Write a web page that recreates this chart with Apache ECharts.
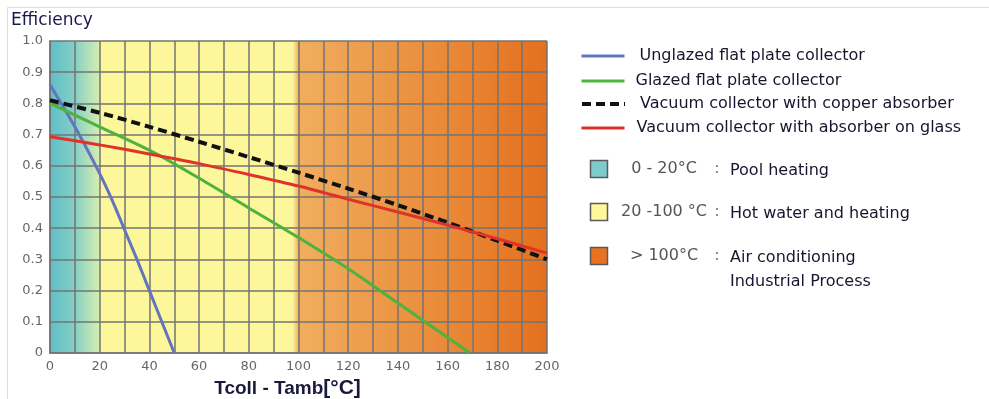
<!DOCTYPE html>
<html>
<head>
<meta charset="utf-8">
<script src="https://cdn.jsdelivr.net/npm/echarts@6/dist/echarts.min.js"></script>
<style>
  html, body { margin: 0; padding: 0; background: #fff; }
  #main { width: 989px; height: 399px; }
</style>
</head>
<body>
<div id="main"></div>
<script>
// collector curves: temperature difference (°C) and efficiency
var unglazedT   = [0, 10, 20, 25, 30, 35, 40, 45, 50];
var unglazedEff = [0.86, 0.725, 0.575, 0.49, 0.395, 0.30, 0.20, 0.10, 0];

var glazedT   = [0, 20, 40, 60, 80, 100, 120, 140, 160, 169];
var glazedEff = [0.80, 0.725, 0.65, 0.56, 0.465, 0.37, 0.27, 0.16, 0.05, 0];

var copperT   = [0, 20, 40, 60, 80, 100, 120, 140, 160, 180, 200];
var copperEff = [0.81, 0.77, 0.725, 0.677, 0.628, 0.578, 0.527, 0.474, 0.418, 0.36, 0.30];

var glassT   = [0, 20, 40, 60, 80, 100, 120, 140, 160, 180, 200];
var glassEff = [0.693, 0.667, 0.638, 0.607, 0.572, 0.535, 0.493, 0.452, 0.41, 0.366, 0.32];

var seriesNames = [
    'Unglazed flat plate collector',
    'Glazed flat plate collector',
    'Vacuum collector with copper absorber',
    'Vacuum collector with absorber on glass'
];

// temperature ranges shown as background bands
var bandFrom   = [0, 20, 100];
var bandTo     = [20, 100, 200];
var bandRange  = ['0 - 20°C', '20 -100 °C', '> 100°C'];
var bandUse    = ['Pool heating', 'Hot water and heating', 'Air conditioning\nIndustrial Process'];

var xMin = 0, xMax = 200;

function pairs(xs, ys) {
    var out = [];
    for (var i = 0; i < xs.length; i++) out.push([xs[i], ys[i]]);
    return out;
}

// background colours for each band (start, end)
var bandColors = [
    ['#5ebec6', '#d6eeb0'],
    ['#fdf79b', '#fdf79b'],
    ['#f0ae5e', '#e4701e']
];
var bandSwatch = ['#7ecbcb', '#fff79a', '#e8721f'];

var stops = [];
for (var b = 0; b < bandFrom.length; b++) {
    stops.push({offset: (bandFrom[b] - xMin) / (xMax - xMin), color: bandColors[b][0]});
    stops.push({offset: (bandTo[b] - xMin) / (xMax - xMin) - (b < bandFrom.length - 1 && b > 0 ? 0.012 : 0), color: bandColors[b][1]});
}
// soft mid colour in the pool band
stops.splice(1, 0, {offset: 0.05, color: '#86cfc5'});

var chart = echarts.init(document.getElementById('main'));

var gridLine = {show: true, lineStyle: {color: 'rgba(115,115,115,0.75)', width: 2}};
var font = 'DejaVu Sans';
var textColor = '#16162e';

var lineColors = ['#6474bd', '#4db33d', '#111111', '#e0322b'];
var lineData = [
    pairs(unglazedT, unglazedEff),
    pairs(glazedT, glazedEff),
    pairs(copperT, copperEff),
    pairs(glassT, glassEff)
];

var series = [];
for (var s = 0; s < seriesNames.length; s++) {
    series.push({
        name: seriesNames[s],
        type: 'line',
        data: lineData[s],
        smooth: 0.3,
        symbol: 'none',
        color: lineColors[s],
        lineStyle: {
            color: lineColors[s],
            width: s === 2 ? 4 : 3,
            type: s === 2 ? [9, 5] : 'solid'
        },
        z: 3
    });
}

// one legend per line so each row sits where it should
var legendTops = [56, 81, 104, 128];
var legendPad = [10, 6, 10, 7];
var legends = [];
for (var l = 0; l < seriesNames.length; l++) {
    legends.push({
        data: [seriesNames[l]],
        left: 580,
        top: legendTops[l] - 10,
        padding: 0,
        itemWidth: 43,
        itemHeight: 14,
        selectedMode: false,
        itemStyle: {opacity: 0},
        lineStyle: {width: l === 2 ? 4 : 3},
        textStyle: {
            fontFamily: font,
            fontSize: 16,
            color: textColor,
            lineHeight: 20,
            padding: [0, 0, 0, legendPad[l]]
        }
    });
}

// range legend (swatch, range, colon, use)
var rowY = [169, 212, 256];
var graphics = [{
    type: 'rect',
    shape: {x: 7.5, y: 7.5, width: 1200, height: 800},
    style: {fill: null, stroke: '#deded6', lineWidth: 1},
    silent: true
}];
for (var r = 0; r < bandRange.length; r++) {
    graphics.push({
        type: 'rect',
        shape: {x: 590.5, y: rowY[r] - 8.5, width: 17, height: 17},
        style: {fill: bandSwatch[r], stroke: '#5a5a5a', lineWidth: 1.5}
    });
    graphics.push({
        type: 'text',
        x: 664, y: rowY[r],
        style: {text: bandRange[r], font: '16px "DejaVu Sans"', fill: '#555555', align: 'center', verticalAlign: 'middle'}
    });
    graphics.push({
        type: 'text',
        x: 717, y: rowY[r],
        style: {text: ':', font: '16px "DejaVu Sans"', fill: '#777777', align: 'center', verticalAlign: 'middle'}
    });
    graphics.push({
        type: 'text',
        x: 730, y: rowY[r] - 10,
        style: {text: bandUse[r], font: '16px "DejaVu Sans"', fill: textColor, align: 'left', verticalAlign: 'top', lineHeight: 24}
    });
}

var option = {
    animation: false,
    backgroundColor: '#ffffff',
    title: {
        text: 'Efficiency',
        left: 11,
        top: 12,
        padding: 0,
        textStyle: {fontFamily: font, fontSize: 17, fontWeight: 'normal', color: '#1a1a4a'}
    },
    legend: legends,
    grid: {
        left: 50,
        right: 442,
        top: 41,
        bottom: 46,
        outerBoundsMode: 'none',
        containLabel: false,
        show: true,
        borderWidth: 0,
        backgroundColor: new echarts.graphic.LinearGradient(0, 0, 1, 0, stops)
    },
    xAxis: {
        type: 'value',
        min: xMin,
        max: xMax,
        interval: 20,
        name: '{a|Tcoll - Tamb}{b|[°C]}',
        nameLocation: 'middle',
        nameGap: 23,
        nameTextStyle: {
            padding: [0, 22, 0, 0],
            verticalAlign: 'top',
            rich: {
                a: {fontFamily: 'Liberation Sans', fontSize: 19, fontWeight: 'bold', color: '#1a1a3a'},
                b: {fontFamily: 'Liberation Sans', fontSize: 21, fontWeight: 'bold', color: '#1a1a3a'}
            }
        },
        axisLine: {show: true, lineStyle: {color: 'rgba(115,115,115,0.75)', width: 2}},
        axisTick: {show: false},
        axisLabel: {fontFamily: font, fontSize: 13, color: '#666666', margin: 7},
        splitLine: gridLine,
        minorTick: {show: false, splitNumber: 2},
        minorSplitLine: gridLine
    },
    yAxis: {
        type: 'value',
        min: 0,
        max: 1,
        interval: 0.1,
        axisLine: {show: true, lineStyle: {color: 'rgba(115,115,115,0.75)', width: 2}},
        axisTick: {show: false},
        axisLabel: {
            fontFamily: font,
            fontSize: 13,
            color: '#666666',
            margin: 7,
            formatter: function (v) { return v === 0 ? '0' : v.toFixed(1); }
        },
        splitLine: gridLine
    },
    graphic: graphics,
    series: series
};

chart.setOption(option);
</script>
</body>
</html>
